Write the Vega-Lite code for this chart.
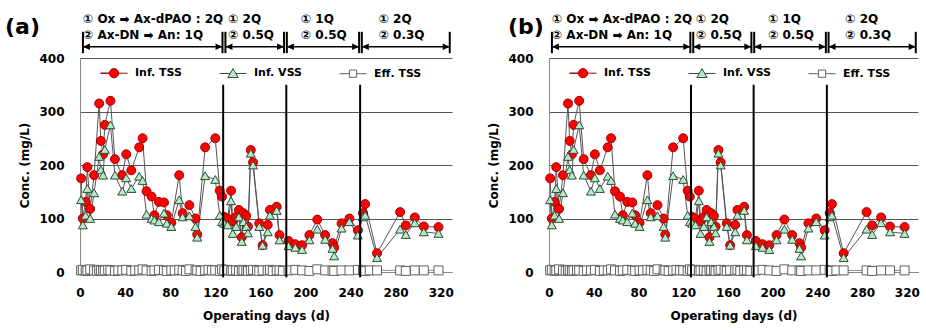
{
  "$schema": "https://vega.github.io/schema/vega-lite/v6.json",
  "padding": {"left": 5, "top": 12, "right": 5, "bottom": 5},
  "background": "white",
  "config": {
    "font": "DejaVu Sans",
    "view": {"stroke": null},
    "axis": {"labelFont": "DejaVu Sans", "labelFontWeight": "bold", "labelFontSize": 12, "labelColor": "#000", "titleFont": "DejaVu Sans", "titleFontWeight": "bold", "titleFontSize": 12, "titleColor": "#000", "ticks": false, "tickSize": 0},
    "axisX": {"grid": false, "domainColor": "#888", "labelPadding": 15, "titlePadding": 12, "labelFlush": false},
    "axisY": {"grid": true, "gridColor": "#555", "gridWidth": 1, "domainColor": "#888", "labelPadding": 16, "titlePadding": 7}
  },
  "datasets": {
    "obs": [
      {"day":1,"series":"Eff. TSS","value":3},{"day":2.5,"series":"Eff. TSS","value":4},{"day":5,"series":"Eff. TSS","value":2},{"day":6.5,"series":"Eff. TSS","value":3},{"day":9,"series":"Eff. TSS","value":5},{"day":12.5,"series":"Eff. TSS","value":3},{"day":15,"series":"Eff. TSS","value":2},{"day":17,"series":"Eff. TSS","value":4},{"day":18.5,"series":"Eff. TSS","value":3},{"day":20.5,"series":"Eff. TSS","value":2},{"day":22,"series":"Eff. TSS","value":3},{"day":25,"series":"Eff. TSS","value":4},{"day":27,"series":"Eff. TSS","value":3},{"day":31,"series":"Eff. TSS","value":2},{"day":34,"series":"Eff. TSS","value":3},{"day":37.5,"series":"Eff. TSS","value":3},{"day":41,"series":"Eff. TSS","value":4},{"day":45.5,"series":"Eff. TSS","value":2},{"day":49,"series":"Eff. TSS","value":3},{"day":52.5,"series":"Eff. TSS","value":3},{"day":55.5,"series":"Eff. TSS","value":5},{"day":59,"series":"Eff. TSS","value":3},{"day":63.5,"series":"Eff. TSS","value":2},{"day":66,"series":"Eff. TSS","value":3},{"day":70,"series":"Eff. TSS","value":4},{"day":74.5,"series":"Eff. TSS","value":3},{"day":77,"series":"Eff. TSS","value":2},{"day":81,"series":"Eff. TSS","value":3},{"day":84,"series":"Eff. TSS","value":3},{"day":88,"series":"Eff. TSS","value":4},{"day":91,"series":"Eff. TSS","value":3},{"day":94,"series":"Eff. TSS","value":2},{"day":97,"series":"Eff. TSS","value":5},{"day":102.5,"series":"Eff. TSS","value":3},{"day":104,"series":"Eff. TSS","value":3},{"day":107,"series":"Eff. TSS","value":2},{"day":111,"series":"Eff. TSS","value":3},{"day":114,"series":"Eff. TSS","value":4},{"day":117,"series":"Eff. TSS","value":3},{"day":120,"series":"Eff. TSS","value":3},{"day":124,"series":"Eff. TSS","value":2},{"day":126,"series":"Eff. TSS","value":5},{"day":128,"series":"Eff. TSS","value":3},{"day":131,"series":"Eff. TSS","value":4},{"day":134,"series":"Eff. TSS","value":2},{"day":135.5,"series":"Eff. TSS","value":3},{"day":138.5,"series":"Eff. TSS","value":3},{"day":141,"series":"Eff. TSS","value":2},{"day":143.5,"series":"Eff. TSS","value":4},{"day":145,"series":"Eff. TSS","value":3},{"day":147.5,"series":"Eff. TSS","value":3},{"day":149,"series":"Eff. TSS","value":2},{"day":151.5,"series":"Eff. TSS","value":3},{"day":153.5,"series":"Eff. TSS","value":4},{"day":157,"series":"Eff. TSS","value":3},{"day":159,"series":"Eff. TSS","value":2},{"day":162,"series":"Eff. TSS","value":3},{"day":166.5,"series":"Eff. TSS","value":3},{"day":168.5,"series":"Eff. TSS","value":4},{"day":171,"series":"Eff. TSS","value":2},{"day":174.5,"series":"Eff. TSS","value":3},{"day":177,"series":"Eff. TSS","value":3},{"day":180,"series":"Eff. TSS","value":2},{"day":185,"series":"Eff. TSS","value":3},{"day":191,"series":"Eff. TSS","value":4},{"day":197,"series":"Eff. TSS","value":3},{"day":203.5,"series":"Eff. TSS","value":2},{"day":210.5,"series":"Eff. TSS","value":5},{"day":217.5,"series":"Eff. TSS","value":3},{"day":224,"series":"Eff. TSS","value":3},{"day":225.5,"series":"Eff. TSS","value":2},{"day":232,"series":"Eff. TSS","value":3},{"day":239,"series":"Eff. TSS","value":3},{"day":246.5,"series":"Eff. TSS","value":4},{"day":251,"series":"Eff. TSS","value":3},{"day":253,"series":"Eff. TSS","value":2},{"day":257,"series":"Eff. TSS","value":3},{"day":263.5,"series":"Eff. TSS","value":3},{"day":284,"series":"Eff. TSS","value":3},{"day":289,"series":"Eff. TSS","value":2},{"day":297,"series":"Eff. TSS","value":3},{"day":305,"series":"Eff. TSS","value":3},{"day":318,"series":"Eff. TSS","value":3},
      {"day":1,"series":"Inf. TSS","value":175},{"day":2.5,"series":"Inf. TSS","value":100},{"day":5,"series":"Inf. TSS","value":131},{"day":6.5,"series":"Inf. TSS","value":196},{"day":9,"series":"Inf. TSS","value":118},{"day":12.5,"series":"Inf. TSS","value":181},{"day":17,"series":"Inf. TSS","value":315},{"day":18.5,"series":"Inf. TSS","value":245},{"day":20.5,"series":"Inf. TSS","value":220},{"day":22,"series":"Inf. TSS","value":275},{"day":27,"series":"Inf. TSS","value":320},{"day":31,"series":"Inf. TSS","value":211},{"day":37.5,"series":"Inf. TSS","value":181},{"day":41,"series":"Inf. TSS","value":220},{"day":45.5,"series":"Inf. TSS","value":190},{"day":52.5,"series":"Inf. TSS","value":233},{"day":55.5,"series":"Inf. TSS","value":250},{"day":59,"series":"Inf. TSS","value":151},{"day":63.5,"series":"Inf. TSS","value":141},{"day":66,"series":"Inf. TSS","value":106},{"day":70,"series":"Inf. TSS","value":131},{"day":74.5,"series":"Inf. TSS","value":130},{"day":77,"series":"Inf. TSS","value":106},{"day":81,"series":"Inf. TSS","value":92},{"day":88,"series":"Inf. TSS","value":181},{"day":91,"series":"Inf. TSS","value":110},{"day":97,"series":"Inf. TSS","value":125},{"day":102.5,"series":"Inf. TSS","value":100},{"day":104,"series":"Inf. TSS","value":70},{"day":111,"series":"Inf. TSS","value":233},{"day":120,"series":"Inf. TSS","value":250},{"day":124,"series":"Inf. TSS","value":152},{"day":126,"series":"Inf. TSS","value":141},{"day":128,"series":"Inf. TSS","value":103},{"day":131,"series":"Inf. TSS","value":100},{"day":134,"series":"Inf. TSS","value":152},{"day":135.5,"series":"Inf. TSS","value":95},{"day":138.5,"series":"Inf. TSS","value":103},{"day":141,"series":"Inf. TSS","value":116},{"day":143.5,"series":"Inf. TSS","value":65},{"day":145,"series":"Inf. TSS","value":110},{"day":147.5,"series":"Inf. TSS","value":105},{"day":149,"series":"Inf. TSS","value":85},{"day":151.5,"series":"Inf. TSS","value":228},{"day":153.5,"series":"Inf. TSS","value":205},{"day":159,"series":"Inf. TSS","value":91},{"day":162,"series":"Inf. TSS","value":50},{"day":166.5,"series":"Inf. TSS","value":88},{"day":168.5,"series":"Inf. TSS","value":116},{"day":174.5,"series":"Inf. TSS","value":122},{"day":177,"series":"Inf. TSS","value":69},{"day":185,"series":"Inf. TSS","value":58},{"day":191,"series":"Inf. TSS","value":52},{"day":197,"series":"Inf. TSS","value":50},{"day":203.5,"series":"Inf. TSS","value":69},{"day":210.5,"series":"Inf. TSS","value":98},{"day":217.5,"series":"Inf. TSS","value":69},{"day":224,"series":"Inf. TSS","value":54},{"day":225.5,"series":"Inf. TSS","value":46},{"day":232,"series":"Inf. TSS","value":91},{"day":239,"series":"Inf. TSS","value":100},{"day":246.5,"series":"Inf. TSS","value":78},{"day":251,"series":"Inf. TSS","value":110},{"day":253,"series":"Inf. TSS","value":127},{"day":263.5,"series":"Inf. TSS","value":35},{"day":284,"series":"Inf. TSS","value":112},{"day":289,"series":"Inf. TSS","value":87},{"day":297,"series":"Inf. TSS","value":102},{"day":305,"series":"Inf. TSS","value":85},{"day":318,"series":"Inf. TSS","value":84},
      {"day":1,"series":"Inf. VSS","value":135},{"day":2.5,"series":"Inf. VSS","value":88},{"day":5,"series":"Inf. VSS","value":106},{"day":6.5,"series":"Inf. VSS","value":156},{"day":9,"series":"Inf. VSS","value":100},{"day":12.5,"series":"Inf. VSS","value":148},{"day":17,"series":"Inf. VSS","value":216},{"day":18.5,"series":"Inf. VSS","value":191},{"day":20.5,"series":"Inf. VSS","value":181},{"day":22,"series":"Inf. VSS","value":229},{"day":27,"series":"Inf. VSS","value":275},{"day":31,"series":"Inf. VSS","value":181},{"day":37.5,"series":"Inf. VSS","value":151},{"day":41,"series":"Inf. VSS","value":176},{"day":45.5,"series":"Inf. VSS","value":156},{"day":52.5,"series":"Inf. VSS","value":179},{"day":55.5,"series":"Inf. VSS","value":171},{"day":59,"series":"Inf. VSS","value":108},{"day":63.5,"series":"Inf. VSS","value":100},{"day":66,"series":"Inf. VSS","value":97},{"day":70,"series":"Inf. VSS","value":94},{"day":74.5,"series":"Inf. VSS","value":110},{"day":77,"series":"Inf. VSS","value":91},{"day":81,"series":"Inf. VSS","value":85},{"day":88,"series":"Inf. VSS","value":135},{"day":91,"series":"Inf. VSS","value":103},{"day":97,"series":"Inf. VSS","value":105},{"day":102.5,"series":"Inf. VSS","value":85},{"day":104,"series":"Inf. VSS","value":65},{"day":111,"series":"Inf. VSS","value":180},{"day":120,"series":"Inf. VSS","value":173},{"day":124,"series":"Inf. VSS","value":106},{"day":126,"series":"Inf. VSS","value":94},{"day":128,"series":"Inf. VSS","value":91},{"day":131,"series":"Inf. VSS","value":88},{"day":134,"series":"Inf. VSS","value":133},{"day":135.5,"series":"Inf. VSS","value":72},{"day":138.5,"series":"Inf. VSS","value":85},{"day":141,"series":"Inf. VSS","value":103},{"day":143.5,"series":"Inf. VSS","value":57},{"day":145,"series":"Inf. VSS","value":94},{"day":147.5,"series":"Inf. VSS","value":85},{"day":149,"series":"Inf. VSS","value":73},{"day":151.5,"series":"Inf. VSS","value":222},{"day":153.5,"series":"Inf. VSS","value":200},{"day":159,"series":"Inf. VSS","value":85},{"day":162,"series":"Inf. VSS","value":50},{"day":166.5,"series":"Inf. VSS","value":75},{"day":168.5,"series":"Inf. VSS","value":106},{"day":174.5,"series":"Inf. VSS","value":115},{"day":177,"series":"Inf. VSS","value":60},{"day":185,"series":"Inf. VSS","value":49},{"day":191,"series":"Inf. VSS","value":46},{"day":197,"series":"Inf. VSS","value":42},{"day":203.5,"series":"Inf. VSS","value":60},{"day":210.5,"series":"Inf. VSS","value":80},{"day":217.5,"series":"Inf. VSS","value":61},{"day":224,"series":"Inf. VSS","value":44},{"day":225.5,"series":"Inf. VSS","value":30},{"day":232,"series":"Inf. VSS","value":82},{"day":239,"series":"Inf. VSS","value":94},{"day":246.5,"series":"Inf. VSS","value":69},{"day":251,"series":"Inf. VSS","value":103},{"day":253,"series":"Inf. VSS","value":106},{"day":263.5,"series":"Inf. VSS","value":27},{"day":284,"series":"Inf. VSS","value":80},{"day":289,"series":"Inf. VSS","value":70},{"day":297,"series":"Inf. VSS","value":92},{"day":305,"series":"Inf. VSS","value":75},{"day":318,"series":"Inf. VSS","value":72}
    ],
    "phases": [
      {"start":2.6,"end":126.4,"label_day":2.7,"l1":"① Ox ➡ Ax-dPAO : 2Q","l2":"② Ax-DN ➡ An: 1Q"},
      {"start":129,"end":181,"label_day":131.5,"l1":"① 2Q","l2":"② 0.5Q"},
      {"start":183.5,"end":247.6,"label_day":196,"l1":"① 1Q","l2":"② 0.5Q"},
      {"start":250,"end":328,"label_day":265,"l1":"① 2Q","l2":"② 0.3Q"}
    ],
    "switch": [{"day":127},{"day":183},{"day":248.5}]
  },
  "spacing": 97,
  "bounds": "flush",
  "hconcat": [
    {
      "width": 372, "height": 214,
      "title": {"text": "(a)", "anchor": "start", "frame": "group", "fontSize": 22, "fontWeight": "bold", "font": "DejaVu Sans", "color": "#000", "dx": -75, "dy": 30},
      "resolve": {"scale": {"shape": "independent", "fill": "independent", "stroke": "independent"}},
      "layer": [
        {"data": {"name": "obs"}, "transform": [{"filter": "datum.series !== 'Eff. TSS'"}],
         "mark": {"type": "line", "color": "#555555", "strokeWidth": 1},
         "encoding": {
           "x": {"field": "day", "type": "quantitative", "scale": {"domain": [0, 330], "nice": false, "zero": false}, "axis": {"values": [0,40,80,120,160,200,240,280,320], "title": "Operating days (d)"}},
           "y": {"field": "value", "type": "quantitative", "scale": {"domain": [0, 400], "nice": false}, "axis": {"values": [0,100,200,300,400], "title": "Conc. (mg/L)"}},
           "detail": {"field": "series"}
         }},
        {"data": {"name": "obs"}, "transform": [{"filter": "datum.series === 'Eff. TSS'"}],
         "mark": {"type": "line", "color": "#8c8c8c", "strokeWidth": 1},
         "encoding": {
           "x": {"field": "day", "type": "quantitative", "scale": {"domain": [0, 330], "nice": false, "zero": false}, "axis": {"values": [0,40,80,120,160,200,240,280,320], "title": "Operating days (d)"}},
           "y": {"field": "value", "type": "quantitative", "scale": {"domain": [0, 400], "nice": false}, "axis": {"values": [0,100,200,300,400], "title": "Conc. (mg/L)"}}
         }},
        {"data": {"name": "obs"},
         "mark": {"type": "point", "filled": true, "size": 80, "strokeWidth": 1, "opacity": 1},
         "encoding": {
           "x": {"field": "day", "type": "quantitative", "scale": {"domain": [0, 330], "nice": false, "zero": false}, "axis": {"values": [0,40,80,120,160,200,240,280,320], "title": "Operating days (d)"}},
           "y": {"field": "value", "type": "quantitative", "scale": {"domain": [0, 400], "nice": false}, "axis": {"values": [0,100,200,300,400], "title": "Conc. (mg/L)"}},
           "shape": {"field": "series", "type": "nominal", "scale": {"domain": ["Inf. TSS", "Inf. VSS", "Eff. TSS"], "range": ["circle", "triangle-up", "square"]}, "legend": null},
           "fill": {"field": "series", "type": "nominal", "scale": {"domain": ["Inf. TSS", "Inf. VSS", "Eff. TSS"], "range": ["#ff0000", "#b7ebc6", "#ffffff"]}, "legend": null},
           "stroke": {"field": "series", "type": "nominal", "scale": {"domain": ["Inf. TSS", "Inf. VSS", "Eff. TSS"], "range": ["#a00000", "#2e4a3a", "#606060"]}, "legend": null}
         }},
        {"data": {"name": "obs"}, "transform": [{"filter": "false"}],
         "mark": {"type": "point", "filled": true, "strokeWidth": 1, "opacity": 1},
         "encoding": {
           "x": {"field": "day", "type": "quantitative", "scale": {"domain": [0, 330], "nice": false, "zero": false}, "axis": {"values": [0,40,80,120,160,200,240,280,320], "title": "Operating days (d)"}},
           "y": {"field": "value", "type": "quantitative", "scale": {"domain": [0, 400], "nice": false}, "axis": {"values": [0,100,200,300,400], "title": "Conc. (mg/L)"}},
           "shape": {"field": "series", "type": "nominal", "scale": {"domain": ["Inf. TSS", "Inf. VSS", "Eff. TSS"], "range": ["M-1,0H-0.34A0.34,0.34,0,1,1,0.34,0A0.34,0.34,0,1,1,-0.34,0ZM0.34,0H1", "M-1,0H-0.21M0.21,0H1M0,-0.36L0.38,0.3L-0.38,0.3Z", "M-1,0H-0.27M0.27,0H1M-0.27,-0.27H0.27V0.27H-0.27Z"]},
             "legend": {"title": null, "orient": "none", "legendX": 20, "legendY": 1, "direction": "horizontal", "symbolSize": 729, "symbolStrokeWidth": 1, "labelFontSize": 11, "labelFont": "DejaVu Sans", "labelFontWeight": "bold", "labelColor": "#000", "labelOffset": 7, "columnPadding": 35, "padding": 0}},
           "fill": {"field": "series", "type": "nominal", "scale": {"domain": ["Inf. TSS", "Inf. VSS", "Eff. TSS"], "range": ["#ff0000", "#b7ebc6", "#ffffff"]},
             "legend": {"title": null, "orient": "none", "legendX": 20, "legendY": 1, "direction": "horizontal", "symbolSize": 729, "symbolStrokeWidth": 1, "labelFontSize": 11, "labelFont": "DejaVu Sans", "labelFontWeight": "bold", "labelColor": "#000", "labelOffset": 7, "columnPadding": 35, "padding": 0}},
           "stroke": {"field": "series", "type": "nominal", "scale": {"domain": ["Inf. TSS", "Inf. VSS", "Eff. TSS"], "range": ["#a00000", "#2e4a3a", "#606060"]},
             "legend": {"title": null, "orient": "none", "legendX": 20, "legendY": 1, "direction": "horizontal", "symbolSize": 729, "symbolStrokeWidth": 1, "labelFontSize": 11, "labelFont": "DejaVu Sans", "labelFontWeight": "bold", "labelColor": "#000", "labelOffset": 7, "columnPadding": 35, "padding": 0}}
         }},
        {"data": {"name": "switch"}, "mark": {"type": "rule", "color": "#000", "strokeWidth": 2},
         "encoding": {
           "x": {"field": "day", "type": "quantitative", "scale": {"domain": [0, 330], "nice": false, "zero": false}, "axis": {"values": [0,40,80,120,160,200,240,280,320], "title": "Operating days (d)"}},
           "y": {"datum": 350, "type": "quantitative", "scale": {"domain": [0, 400], "nice": false}, "axis": {"values": [0,100,200,300,400], "title": "Conc. (mg/L)"}},
           "y2": {"datum": -10}
         }},
        {"data": {"name": "phases"}, "mark": {"type": "rule", "color": "#000", "strokeWidth": 1.5},
         "encoding": {
           "x": {"field": "start", "type": "quantitative", "scale": {"domain": [0, 330], "nice": false, "zero": false}, "axis": {"values": [0,40,80,120,160,200,240,280,320], "title": "Operating days (d)"}},
           "x2": {"field": "end"},
           "y": {"datum": 421, "type": "quantitative", "scale": {"domain": [0, 400], "nice": false}, "axis": {"values": [0,100,200,300,400], "title": "Conc. (mg/L)"}}
         }},
        {"data": {"name": "phases"}, "mark": {"type": "rule", "color": "#000", "strokeWidth": 2},
         "encoding": {
           "x": {"field": "start", "type": "quantitative", "scale": {"domain": [0, 330], "nice": false, "zero": false}, "axis": {"values": [0,40,80,120,160,200,240,280,320], "title": "Operating days (d)"}},
           "y": {"datum": 409, "type": "quantitative", "scale": {"domain": [0, 400], "nice": false}, "axis": {"values": [0,100,200,300,400], "title": "Conc. (mg/L)"}},
           "y2": {"datum": 449}
         }},
        {"data": {"name": "phases"}, "mark": {"type": "rule", "color": "#000", "strokeWidth": 2},
         "encoding": {
           "x": {"field": "end", "type": "quantitative", "scale": {"domain": [0, 330], "nice": false, "zero": false}, "axis": {"values": [0,40,80,120,160,200,240,280,320], "title": "Operating days (d)"}},
           "y": {"datum": 409, "type": "quantitative", "scale": {"domain": [0, 400], "nice": false}, "axis": {"values": [0,100,200,300,400], "title": "Conc. (mg/L)"}},
           "y2": {"datum": 449}
         }},
        {"data": {"name": "phases"}, "mark": {"type": "point", "filled": true, "color": "#000", "opacity": 1, "size": 196, "shape": "M0,0L1,-0.45L1,0.45Z"},
         "encoding": {
           "x": {"field": "start", "type": "quantitative", "scale": {"domain": [0, 330], "nice": false, "zero": false}, "axis": {"values": [0,40,80,120,160,200,240,280,320], "title": "Operating days (d)"}},
           "y": {"datum": 421, "type": "quantitative", "scale": {"domain": [0, 400], "nice": false}, "axis": {"values": [0,100,200,300,400], "title": "Conc. (mg/L)"}}
         }},
        {"data": {"name": "phases"}, "mark": {"type": "point", "filled": true, "color": "#000", "opacity": 1, "size": 196, "shape": "M0,0L-1,-0.45L-1,0.45Z"},
         "encoding": {
           "x": {"field": "end", "type": "quantitative", "scale": {"domain": [0, 330], "nice": false, "zero": false}, "axis": {"values": [0,40,80,120,160,200,240,280,320], "title": "Operating days (d)"}},
           "y": {"datum": 421, "type": "quantitative", "scale": {"domain": [0, 400], "nice": false}, "axis": {"values": [0,100,200,300,400], "title": "Conc. (mg/L)"}}
         }},
        {"data": {"name": "phases"}, "mark": {"type": "text", "align": "left", "baseline": "middle", "fontSize": 12, "fontWeight": "bold", "font": "DejaVu Sans", "color": "#000"},
         "encoding": {
           "x": {"field": "label_day", "type": "quantitative", "scale": {"domain": [0, 330], "nice": false, "zero": false}, "axis": {"values": [0,40,80,120,160,200,240,280,320], "title": "Operating days (d)"}},
           "y": {"datum": 473, "type": "quantitative", "scale": {"domain": [0, 400], "nice": false}, "axis": {"values": [0,100,200,300,400], "title": "Conc. (mg/L)"}},
           "text": {"field": "l1"}
         }},
        {"data": {"name": "phases"}, "mark": {"type": "text", "align": "left", "baseline": "middle", "fontSize": 12, "fontWeight": "bold", "font": "DejaVu Sans", "color": "#000"},
         "encoding": {
           "x": {"field": "label_day", "type": "quantitative", "scale": {"domain": [0, 330], "nice": false, "zero": false}, "axis": {"values": [0,40,80,120,160,200,240,280,320], "title": "Operating days (d)"}},
           "y": {"datum": 443, "type": "quantitative", "scale": {"domain": [0, 400], "nice": false}, "axis": {"values": [0,100,200,300,400], "title": "Conc. (mg/L)"}},
           "text": {"field": "l2"}
         }}
      ]
    },
    {
      "width": 369, "height": 214,
      "title": {"text": "(b)", "anchor": "start", "frame": "group", "fontSize": 22, "fontWeight": "bold", "font": "DejaVu Sans", "color": "#000", "dx": -41, "dy": 30},
      "resolve": {"scale": {"shape": "independent", "fill": "independent", "stroke": "independent"}},
      "layer": [
        {"data": {"name": "obs"}, "transform": [{"filter": "datum.series !== 'Eff. TSS'"}],
         "mark": {"type": "line", "color": "#555555", "strokeWidth": 1},
         "encoding": {
           "x": {"field": "day", "type": "quantitative", "scale": {"domain": [0, 330], "nice": false, "zero": false}, "axis": {"values": [0,40,80,120,160,200,240,280,320], "title": "Operating days (d)"}},
           "y": {"field": "value", "type": "quantitative", "scale": {"domain": [0, 400], "nice": false}, "axis": {"values": [0,100,200,300,400], "title": "Conc. (mg/L)"}},
           "detail": {"field": "series"}
         }},
        {"data": {"name": "obs"}, "transform": [{"filter": "datum.series === 'Eff. TSS'"}],
         "mark": {"type": "line", "color": "#8c8c8c", "strokeWidth": 1},
         "encoding": {
           "x": {"field": "day", "type": "quantitative", "scale": {"domain": [0, 330], "nice": false, "zero": false}, "axis": {"values": [0,40,80,120,160,200,240,280,320], "title": "Operating days (d)"}},
           "y": {"field": "value", "type": "quantitative", "scale": {"domain": [0, 400], "nice": false}, "axis": {"values": [0,100,200,300,400], "title": "Conc. (mg/L)"}}
         }},
        {"data": {"name": "obs"},
         "mark": {"type": "point", "filled": true, "size": 80, "strokeWidth": 1, "opacity": 1},
         "encoding": {
           "x": {"field": "day", "type": "quantitative", "scale": {"domain": [0, 330], "nice": false, "zero": false}, "axis": {"values": [0,40,80,120,160,200,240,280,320], "title": "Operating days (d)"}},
           "y": {"field": "value", "type": "quantitative", "scale": {"domain": [0, 400], "nice": false}, "axis": {"values": [0,100,200,300,400], "title": "Conc. (mg/L)"}},
           "shape": {"field": "series", "type": "nominal", "scale": {"domain": ["Inf. TSS", "Inf. VSS", "Eff. TSS"], "range": ["circle", "triangle-up", "square"]}, "legend": null},
           "fill": {"field": "series", "type": "nominal", "scale": {"domain": ["Inf. TSS", "Inf. VSS", "Eff. TSS"], "range": ["#ff0000", "#b7ebc6", "#ffffff"]}, "legend": null},
           "stroke": {"field": "series", "type": "nominal", "scale": {"domain": ["Inf. TSS", "Inf. VSS", "Eff. TSS"], "range": ["#a00000", "#2e4a3a", "#606060"]}, "legend": null}
         }},
        {"data": {"name": "obs"}, "transform": [{"filter": "false"}],
         "mark": {"type": "point", "filled": true, "strokeWidth": 1, "opacity": 1},
         "encoding": {
           "x": {"field": "day", "type": "quantitative", "scale": {"domain": [0, 330], "nice": false, "zero": false}, "axis": {"values": [0,40,80,120,160,200,240,280,320], "title": "Operating days (d)"}},
           "y": {"field": "value", "type": "quantitative", "scale": {"domain": [0, 400], "nice": false}, "axis": {"values": [0,100,200,300,400], "title": "Conc. (mg/L)"}},
           "shape": {"field": "series", "type": "nominal", "scale": {"domain": ["Inf. TSS", "Inf. VSS", "Eff. TSS"], "range": ["M-1,0H-0.34A0.34,0.34,0,1,1,0.34,0A0.34,0.34,0,1,1,-0.34,0ZM0.34,0H1", "M-1,0H-0.21M0.21,0H1M0,-0.36L0.38,0.3L-0.38,0.3Z", "M-1,0H-0.27M0.27,0H1M-0.27,-0.27H0.27V0.27H-0.27Z"]},
             "legend": {"title": null, "orient": "none", "legendX": 20, "legendY": 1, "direction": "horizontal", "symbolSize": 729, "symbolStrokeWidth": 1, "labelFontSize": 11, "labelFont": "DejaVu Sans", "labelFontWeight": "bold", "labelColor": "#000", "labelOffset": 7, "columnPadding": 35, "padding": 0}},
           "fill": {"field": "series", "type": "nominal", "scale": {"domain": ["Inf. TSS", "Inf. VSS", "Eff. TSS"], "range": ["#ff0000", "#b7ebc6", "#ffffff"]},
             "legend": {"title": null, "orient": "none", "legendX": 20, "legendY": 1, "direction": "horizontal", "symbolSize": 729, "symbolStrokeWidth": 1, "labelFontSize": 11, "labelFont": "DejaVu Sans", "labelFontWeight": "bold", "labelColor": "#000", "labelOffset": 7, "columnPadding": 35, "padding": 0}},
           "stroke": {"field": "series", "type": "nominal", "scale": {"domain": ["Inf. TSS", "Inf. VSS", "Eff. TSS"], "range": ["#a00000", "#2e4a3a", "#606060"]},
             "legend": {"title": null, "orient": "none", "legendX": 20, "legendY": 1, "direction": "horizontal", "symbolSize": 729, "symbolStrokeWidth": 1, "labelFontSize": 11, "labelFont": "DejaVu Sans", "labelFontWeight": "bold", "labelColor": "#000", "labelOffset": 7, "columnPadding": 35, "padding": 0}}
         }},
        {"data": {"name": "switch"}, "mark": {"type": "rule", "color": "#000", "strokeWidth": 2},
         "encoding": {
           "x": {"field": "day", "type": "quantitative", "scale": {"domain": [0, 330], "nice": false, "zero": false}, "axis": {"values": [0,40,80,120,160,200,240,280,320], "title": "Operating days (d)"}},
           "y": {"datum": 350, "type": "quantitative", "scale": {"domain": [0, 400], "nice": false}, "axis": {"values": [0,100,200,300,400], "title": "Conc. (mg/L)"}},
           "y2": {"datum": -10}
         }},
        {"data": {"name": "phases"}, "mark": {"type": "rule", "color": "#000", "strokeWidth": 1.5},
         "encoding": {
           "x": {"field": "start", "type": "quantitative", "scale": {"domain": [0, 330], "nice": false, "zero": false}, "axis": {"values": [0,40,80,120,160,200,240,280,320], "title": "Operating days (d)"}},
           "x2": {"field": "end"},
           "y": {"datum": 421, "type": "quantitative", "scale": {"domain": [0, 400], "nice": false}, "axis": {"values": [0,100,200,300,400], "title": "Conc. (mg/L)"}}
         }},
        {"data": {"name": "phases"}, "mark": {"type": "rule", "color": "#000", "strokeWidth": 2},
         "encoding": {
           "x": {"field": "start", "type": "quantitative", "scale": {"domain": [0, 330], "nice": false, "zero": false}, "axis": {"values": [0,40,80,120,160,200,240,280,320], "title": "Operating days (d)"}},
           "y": {"datum": 409, "type": "quantitative", "scale": {"domain": [0, 400], "nice": false}, "axis": {"values": [0,100,200,300,400], "title": "Conc. (mg/L)"}},
           "y2": {"datum": 449}
         }},
        {"data": {"name": "phases"}, "mark": {"type": "rule", "color": "#000", "strokeWidth": 2},
         "encoding": {
           "x": {"field": "end", "type": "quantitative", "scale": {"domain": [0, 330], "nice": false, "zero": false}, "axis": {"values": [0,40,80,120,160,200,240,280,320], "title": "Operating days (d)"}},
           "y": {"datum": 409, "type": "quantitative", "scale": {"domain": [0, 400], "nice": false}, "axis": {"values": [0,100,200,300,400], "title": "Conc. (mg/L)"}},
           "y2": {"datum": 449}
         }},
        {"data": {"name": "phases"}, "mark": {"type": "point", "filled": true, "color": "#000", "opacity": 1, "size": 196, "shape": "M0,0L1,-0.45L1,0.45Z"},
         "encoding": {
           "x": {"field": "start", "type": "quantitative", "scale": {"domain": [0, 330], "nice": false, "zero": false}, "axis": {"values": [0,40,80,120,160,200,240,280,320], "title": "Operating days (d)"}},
           "y": {"datum": 421, "type": "quantitative", "scale": {"domain": [0, 400], "nice": false}, "axis": {"values": [0,100,200,300,400], "title": "Conc. (mg/L)"}}
         }},
        {"data": {"name": "phases"}, "mark": {"type": "point", "filled": true, "color": "#000", "opacity": 1, "size": 196, "shape": "M0,0L-1,-0.45L-1,0.45Z"},
         "encoding": {
           "x": {"field": "end", "type": "quantitative", "scale": {"domain": [0, 330], "nice": false, "zero": false}, "axis": {"values": [0,40,80,120,160,200,240,280,320], "title": "Operating days (d)"}},
           "y": {"datum": 421, "type": "quantitative", "scale": {"domain": [0, 400], "nice": false}, "axis": {"values": [0,100,200,300,400], "title": "Conc. (mg/L)"}}
         }},
        {"data": {"name": "phases"}, "mark": {"type": "text", "align": "left", "baseline": "middle", "fontSize": 12, "fontWeight": "bold", "font": "DejaVu Sans", "color": "#000"},
         "encoding": {
           "x": {"field": "label_day", "type": "quantitative", "scale": {"domain": [0, 330], "nice": false, "zero": false}, "axis": {"values": [0,40,80,120,160,200,240,280,320], "title": "Operating days (d)"}},
           "y": {"datum": 473, "type": "quantitative", "scale": {"domain": [0, 400], "nice": false}, "axis": {"values": [0,100,200,300,400], "title": "Conc. (mg/L)"}},
           "text": {"field": "l1"}
         }},
        {"data": {"name": "phases"}, "mark": {"type": "text", "align": "left", "baseline": "middle", "fontSize": 12, "fontWeight": "bold", "font": "DejaVu Sans", "color": "#000"},
         "encoding": {
           "x": {"field": "label_day", "type": "quantitative", "scale": {"domain": [0, 330], "nice": false, "zero": false}, "axis": {"values": [0,40,80,120,160,200,240,280,320], "title": "Operating days (d)"}},
           "y": {"datum": 443, "type": "quantitative", "scale": {"domain": [0, 400], "nice": false}, "axis": {"values": [0,100,200,300,400], "title": "Conc. (mg/L)"}},
           "text": {"field": "l2"}
         }}
      ]
    }
  ]
}
